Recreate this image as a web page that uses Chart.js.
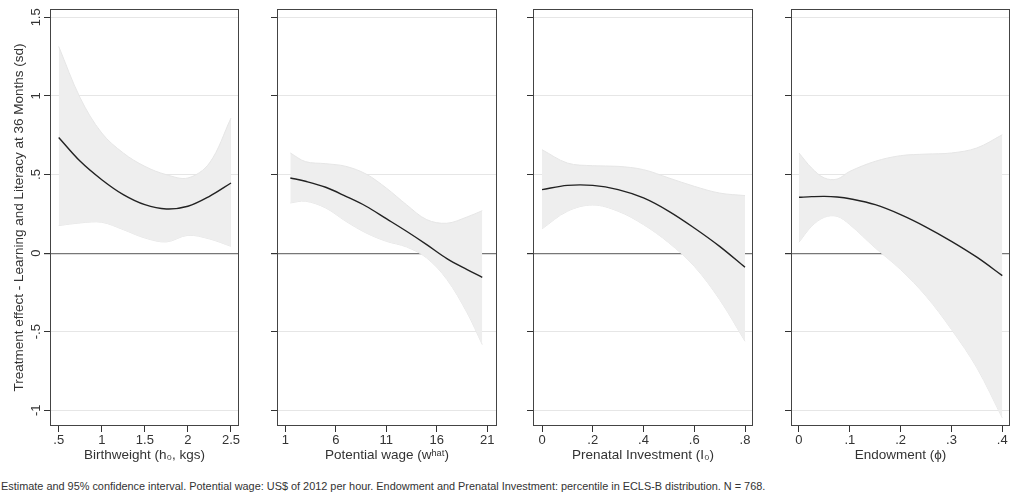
<!DOCTYPE html>
<html><head><meta charset="utf-8">
<script src="https://cdn.jsdelivr.net/npm/chart.js@4/dist/chart.umd.min.js"></script>
<style>
html,body{margin:0;padding:0;background:#fff;overflow:hidden;width:1011px;height:497px}
canvas{position:absolute;top:0}
#note{position:absolute;left:1px;top:480px;font:10.9px 'Liberation Sans',Arial,sans-serif;color:#333;white-space:nowrap}
</style></head><body>
<canvas id="c1" width="246" height="470" style="left:0px"></canvas>
<canvas id="c2" width="250" height="470" style="left:250px"></canvas>
<canvas id="c3" width="250" height="470" style="left:506px"></canvas>
<canvas id="c4" width="247" height="470" style="left:764px"></canvas>
<div id="note">Estimate and 95% confidence interval. Potential wage: US$ of 2012 per hour. Endowment and Prenatal Investment: percentile in ECLS-B distribution. N = 768.</div>
<script>
// ---- data ----
const yTicks = [-1, -0.5, 0, 0.5, 1, 1.5];
const yTitle = 'Treatment effect - Learning and Literacy at 36 Months (sd)';

const bwX   = [0.5, 0.75, 1, 1.25, 1.5, 1.75, 2, 2.25, 2.5];
const bwEst = [0.736, 0.584, 0.467, 0.372, 0.308, 0.281, 0.298, 0.361, 0.446];
const bwHi  = [1.315, 0.987, 0.764, 0.637, 0.552, 0.499, 0.478, 0.573, 0.859];
const bwLo  = [0.175, 0.192, 0.196, 0.149, 0.096, 0.071, 0.113, 0.090, 0.043];
const bwTicks = [0.5, 1, 1.5, 2, 2.5];

const pwX   = [1.5, 3, 5, 7, 9, 11, 13, 15, 17, 19, 20.5];
const pwEst = [0.478, 0.457, 0.419, 0.361, 0.298, 0.219, 0.139, 0.054, -0.035, -0.105, -0.154];
const pwHi  = [0.637, 0.582, 0.569, 0.552, 0.503, 0.414, 0.308, 0.213, 0.190, 0.230, 0.270];
const pwLo  = [0.319, 0.330, 0.287, 0.202, 0.128, 0.075, 0.039, -0.031, -0.168, -0.380, -0.582];
const pwTicks = [1, 6, 11, 16, 21];

const piX   = [0, 0.1, 0.2, 0.3, 0.4, 0.5, 0.6, 0.7, 0.8];
const piEst = [0.404, 0.431, 0.431, 0.404, 0.351, 0.266, 0.160, 0.043, -0.090];
const piHi  = [0.658, 0.573, 0.556, 0.552, 0.531, 0.478, 0.425, 0.382, 0.366];
const piLo  = [0.154, 0.266, 0.306, 0.266, 0.181, 0.065, -0.084, -0.296, -0.561];
const piTicks = [0, 0.2, 0.4, 0.6, 0.8];

const enX   = [0, 0.025, 0.05, 0.075, 0.1, 0.15, 0.2, 0.25, 0.3, 0.35, 0.4];
const enEst = [0.355, 0.359, 0.361, 0.357, 0.346, 0.308, 0.245, 0.166, 0.075, -0.026, -0.143];
const enHi  = [0.637, 0.541, 0.478, 0.471, 0.520, 0.584, 0.620, 0.630, 0.637, 0.669, 0.753];
const enLo  = [0.069, 0.171, 0.228, 0.234, 0.181, 0.033, -0.105, -0.274, -0.486, -0.730, -1.048];
const enTicks = [0, 0.1, 0.2, 0.3, 0.4];

// ---- helpers ----
Chart.defaults.font.family = "'Liberation Sans', Arial, sans-serif";
Chart.defaults.color = '#333';
const fmt = v => { const s = String(Math.round(v * 1000) / 1000); return s.replace(/^(-?)0\./, '$1.'); };
const pts = (xs, ys) => xs.map((x, i) => ({x: x, y: ys[i]}));

const boxPlugin = {
  id: 'box',
  afterDatasetsDraw(chart) {
    const {ctx, chartArea: a} = chart;
    ctx.save();
    ctx.strokeStyle = '#444';
    ctx.lineWidth = 1;
    ctx.strokeRect(Math.round(a.left) + 0.5, Math.round(a.top) + 0.5,
                   Math.round(a.right - a.left) - 1, Math.round(a.bottom - a.top) - 1);
    ctx.restore();
  }
};

function makeChart(id, xs, est, lo, hi, xMin, xMax, xTicks, xTitle, yWidth, padRight, first) {
  const common = {pointRadius: 0, tension: 0.35};
  new Chart(document.getElementById(id), {
    type: 'line',
    data: {
      datasets: [
        Object.assign({data: pts(xs, lo), order: 2, borderColor: '#e6e6e6', borderWidth: 1, fill: false}, common),
        Object.assign({data: pts(xs, hi), order: 1, borderColor: '#e6e6e6', borderWidth: 1, fill: '-1', backgroundColor: '#eeeeee'}, common),
        Object.assign({data: pts(xs, est), order: 0, borderColor: '#222', borderWidth: 1.4, fill: false}, common)
      ]
    },
    options: {
      responsive: false, animation: false, devicePixelRatio: 1,
      layout: {padding: {top: 9, right: padRight, left: 0, bottom: 0}},
      plugins: {legend: {display: false}, tooltip: {enabled: false}},
      scales: {
        x: {
          type: 'linear', min: xMin, max: xMax,
          afterBuildTicks: s => { s.ticks = xTicks.map(v => ({value: v})); },
          afterFit: s => { s.height = 44; },
          grid: {drawOnChartArea: false, drawTicks: true, tickLength: 6, tickColor: '#333', tickWidth: 1},
          border: {display: false},
          ticks: {padding: 1, color: '#333', font: {size: 13}, autoSkip: false, maxRotation: 0, minRotation: 0, callback: v => fmt(v)},
          title: {display: true, text: xTitle, color: '#333', font: {size: 13.5, lineHeight: 1.2}, padding: {top: 0, bottom: 7}}
        },
        y: {
          type: 'linear', min: -1.1, max: 1.553,
          afterBuildTicks: s => { s.ticks = yTicks.map(v => ({value: v})); },
          afterFit: s => { s.width = yWidth; },
          grid: {
            color: c => (c.tick && c.tick.value === 0) ? '#777' : '#e6e6e6',
            lineWidth: c => (c.tick && c.tick.value === 0) ? 1.2 : 1,
            tickColor: '#333', tickLength: 6, drawTicks: true
          },
          border: {display: false},
          ticks: {display: first, minRotation: 90, maxRotation: 90, crossAlign: 'center', padding: -1, color: '#333', font: {size: 13}, callback: v => fmt(v)},
          title: {display: first, text: yTitle, color: '#333', font: {size: 13.5, lineHeight: 1.2}, padding: {top: 11, bottom: 0}}
        }
      }
    },
    plugins: [boxPlugin]
  });
}

makeChart('c1', bwX, bwEst, bwLo, bwHi, 0.399, 2.593, bwTicks, 'Birthweight (h\u2080, kgs)', 50, 7, true);
makeChart('c2', pwX, pwEst, pwLo, pwHi, 0.18, 21.96, pwTicks, 'Potential wage (w\u02B0\u1D43\u1D57)', 27, 3, false);
makeChart('c3', piX, piEst, piLo, piHi, -0.0355, 0.8315, piTicks, 'Prenatal Investment (I\u2080)', 27, 3, false);
makeChart('c4', enX, enEst, enLo, enHi, -0.0157, 0.4152, enTicks, 'Endowment (\u03D5)', 27, 1, false);
</script>
</body></html>
